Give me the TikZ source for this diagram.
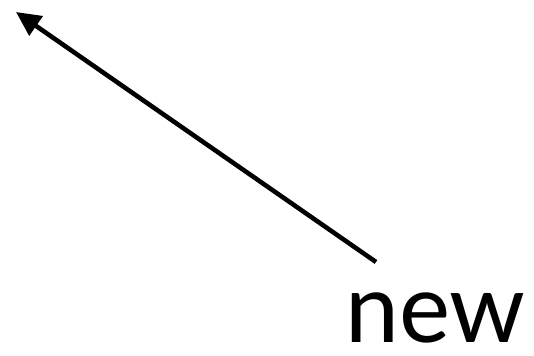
\documentclass[tikz,border=0pt]{standalone}
\usepackage{fontspec}
\setmainfont{Lato}
\usepackage{tikz}
\usetikzlibrary{arrows.meta}

\begin{document}
\begin{tikzpicture}[
  lbl/.style={font=\fontsize{55}{60}\selectfont, inner sep=0pt, anchor=base},
  arr/.style={-{Triangle[length=4.9mm, width=4.6mm]}, line width=2.6pt}
]

% ── Frame ──
\useasboundingbox (0, 0) rectangle (10.68, 7.1);

% ── Label ──
\node[lbl] (new) at (8.71, 0.26) {new};

% ── Arrow ──
\coordinate (tail) at (7.52, 1.86);
\coordinate (tip)  at (0.32, 6.86);
\draw[arr] (tail) -- (tip);

\end{tikzpicture}
\end{document}
